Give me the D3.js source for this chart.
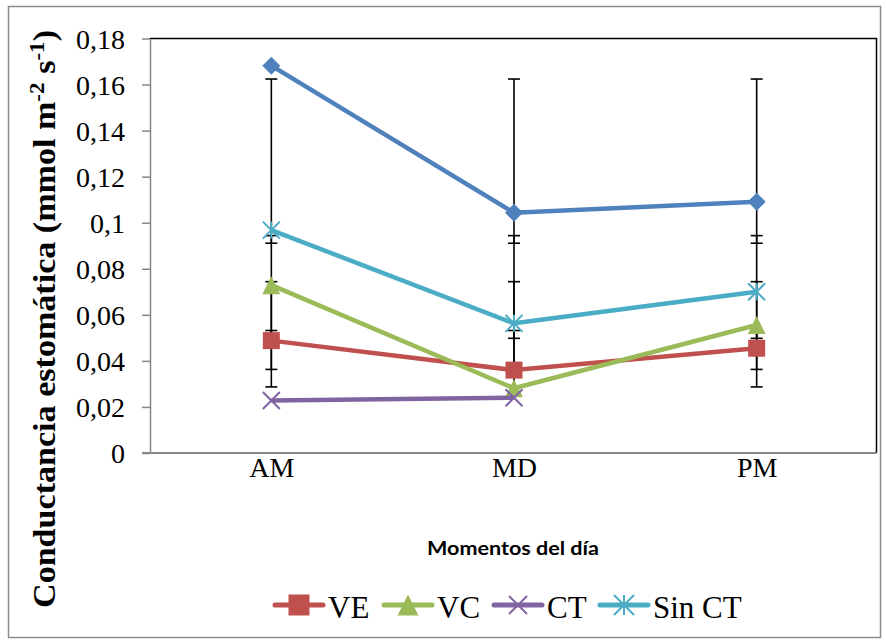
<!DOCTYPE html>
<html>
<head>
<meta charset="utf-8">
<script src="https://cdn.jsdelivr.net/npm/d3@7"></script>
<style>
  html, body { margin: 0; padding: 0; background: #fff; }
  svg { display: block; }
</style>
</head>
<body>
<svg id="chart" width="886" height="643"></svg>
<script>
// Momentos del día
const categories = ["AM", "MD", "PM"];

// Conductancia estomática por tratamiento
const seriesNames = ["", "VE", "VC", "CT", "Sin CT"];
const serieBase  = [0.1682, 0.1043, 0.1091];
const serieVE    = [0.0488, 0.0360, 0.0455];
const serieVC    = [0.0729, 0.0281, 0.0556];
const serieCT    = [0.0228, 0.0240, null];
const serieSinCT = [0.0968, 0.0563, 0.0700];

// Barras de error (límite inferior / superior) por momento
const errBase  = [[0.0911, 0.1624], [0.0911, 0.1624], [0.0911, 0.1624]];
const errVE    = [[0.0287, 0.0532], [0.0287, 0.0532], [0.0287, 0.0532]];
const errVC    = [[0.0363, 0.0744], [0.0363, 0.0744], [0.0363, 0.0744]];
const errCT    = [null, null, null];
const errSinCT = [[0.0498, 0.0944], [0.0498, 0.0944], [0.0498, 0.0944]];

const yTickValues = [0, 0.02, 0.04, 0.06, 0.08, 0.1, 0.12, 0.14, 0.16, 0.18];
const yTickLabels = ["0", "0,02", "0,04", "0,06", "0,08", "0,1", "0,12", "0,14", "0,16", "0,18"];

const colors  = ["#4F81BD", "#C0504D", "#9BBB59", "#8064A2", "#4BACC6"];
const markers = ["diamond", "square", "triangle", "x", "star"];

const series = [
  { name: seriesNames[0], values: serieBase,  err: errBase,  legend: false },
  { name: seriesNames[1], values: serieVE,    err: errVE,    legend: true },
  { name: seriesNames[2], values: serieVC,    err: errVC,    legend: true },
  { name: seriesNames[3], values: serieCT,    err: errCT,    legend: true },
  { name: seriesNames[4], values: serieSinCT, err: errSinCT, legend: true }
].map((s, i) => ({ ...s, color: colors[i], marker: markers[i] }));

const svg = d3.select("#chart");
const serif = "'Liberation Serif', 'Times New Roman', serif";

// Outer chart frame
svg.append("rect")
  .attr("x", 8.5).attr("y", 6.5).attr("width", 872).attr("height", 631)
  .attr("fill", "#fff").attr("stroke", "#8c8c8c").attr("stroke-width", 1.5);

const plot = { left: 150, right: 878, top: 38.5, bottom: 453 };

const x = d3.scalePoint().domain(categories).range([plot.left, plot.right]).padding(0.5);
const y = d3.scaleLinear().domain([0, 0.18]).range([plot.bottom, plot.top]);

// Plot area border (top and right in black)
svg.append("path")
  .attr("d", `M${plot.left},${plot.top}H${plot.right - 1.5}V${plot.bottom}`)
  .attr("fill", "none").attr("stroke", "#000").attr("stroke-width", 1.5);

// Y axis
const yAxis = svg.append("g")
  .attr("transform", `translate(${plot.left},0)`)
  .call(d3.axisLeft(y).tickValues(yTickValues).tickSize(8).tickSizeOuter(0)
    .tickFormat((d, i) => yTickLabels[i]));
yAxis.select(".domain").attr("stroke", "#868686").attr("stroke-width", 1.5);
yAxis.selectAll(".tick line").attr("stroke", "#868686").attr("stroke-width", 1.5);
yAxis.selectAll(".tick text")
  .attr("x", -25).attr("dy", "0.34em")
  .attr("font-family", serif).attr("font-size", 28).attr("fill", "#000");

// X axis
const xAxis = svg.append("g")
  .attr("transform", `translate(0,${plot.bottom})`)
  .call(d3.axisBottom(x).tickSize(0).tickSizeOuter(0));
xAxis.select(".domain").attr("stroke", "#868686").attr("stroke-width", 2)
  .attr("d", `M${plot.left - 8},0H${plot.right - 1.5}`);
xAxis.selectAll(".tick text")
  .attr("y", 24).attr("dy", 0)
  .attr("font-family", serif).attr("font-size", 28).attr("fill", "#000");

// Axis titles
const yTitle = svg.append("text")
  .attr("transform", "translate(55,319) rotate(-90)")
  .attr("text-anchor", "middle")
  .attr("textLength", 578).attr("lengthAdjust", "spacingAndGlyphs")
  .attr("font-family", serif).attr("font-weight", "bold").attr("font-size", 31)
  .attr("fill", "#000");
yTitle.append("tspan").text("Conductancia estomática  (mmol m");
yTitle.append("tspan").attr("dy", -11).attr("font-size", 21).text("-2");
yTitle.append("tspan").attr("dy", 11).text(" s");
yTitle.append("tspan").attr("dy", -11).attr("font-size", 21).text("-1");
yTitle.append("tspan").attr("dy", 11).text(")");

svg.append("text")
  .attr("x", 513).attr("y", 555)
  .attr("text-anchor", "middle")
  .attr("textLength", 172).attr("lengthAdjust", "spacingAndGlyphs")
  .attr("font-family", "Lato, 'Open Sans', sans-serif").attr("font-weight", "bold")
  .attr("font-size", 19).attr("fill", "#000")
  .text("Momentos del día");

// Marker drawing
function drawMarker(g, type, cx, cy, color, s) {
  const h = s / 2;
  if (type === "diamond") {
    g.append("path").attr("d", `M${cx},${cy - h}L${cx + h},${cy}L${cx},${cy + h}L${cx - h},${cy}Z`)
      .attr("fill", color);
  } else if (type === "square") {
    g.append("rect").attr("x", cx - h).attr("y", cy - h).attr("width", s).attr("height", s)
      .attr("fill", color);
  } else if (type === "triangle") {
    g.append("path").attr("d", `M${cx},${cy - h}L${cx + h},${cy + h}L${cx - h},${cy + h}Z`)
      .attr("fill", color);
  } else if (type === "x") {
    g.append("path").attr("d", `M${cx - h},${cy - h}L${cx + h},${cy + h}M${cx - h},${cy + h}L${cx + h},${cy - h}`)
      .attr("stroke", color).attr("stroke-width", 2).attr("fill", "none");
  } else if (type === "star") {
    g.append("path").attr("d", `M${cx - h},${cy - h}L${cx + h},${cy + h}M${cx - h},${cy + h}L${cx + h},${cy - h}M${cx},${cy - h}L${cx},${cy + h}`)
      .attr("stroke", color).attr("stroke-width", 2).attr("fill", "none");
  }
}

const markerSize = { diamond: 18, square: 17, triangle: 18, x: 17, star: 17 };

// Error bars
const errG = svg.append("g");
series.forEach(s => {
  s.err.forEach((e, i) => {
    if (!e) return;
    const cx = x(categories[i]);
    errG.append("line").attr("x1", cx).attr("x2", cx)
      .attr("y1", y(e[0])).attr("y2", y(e[1]))
      .attr("stroke", "#000").attr("stroke-width", 1.6);
    e.forEach(v => {
      errG.append("line").attr("x1", cx - 6).attr("x2", cx + 6)
        .attr("y1", y(v)).attr("y2", y(v))
        .attr("stroke", "#000").attr("stroke-width", 1.6);
    });
  });
});

// Series lines and markers
const line = d3.line()
  .defined(d => d.v != null)
  .x(d => x(d.c)).y(d => y(d.v));

series.forEach(s => {
  const pts = categories.map((c, i) => ({ c, v: s.values[i] }));
  const g = svg.append("g");
  g.append("path").datum(pts).attr("d", line)
    .attr("fill", "none").attr("stroke", s.color).attr("stroke-width", 4.5)
    .attr("stroke-linejoin", "round");
  pts.filter(d => d.v != null).forEach(d =>
    drawMarker(g, s.marker, x(d.c), y(d.v), s.color, markerSize[s.marker]));
});

// Legend
const legendItems = series.filter(s => s.legend);
const legendX = [273, 382, 492, 598];
const legendY = 605;
legendItems.forEach((s, i) => {
  const g = svg.append("g");
  const x0 = legendX[i];
  g.append("line").attr("x1", x0 + 2).attr("x2", x0 + 50)
    .attr("y1", legendY).attr("y2", legendY)
    .attr("stroke", s.color).attr("stroke-width", 5).attr("stroke-linecap", "round");
  const ls = { square: 21, triangle: 21, x: 18, star: 20 }[s.marker];
  drawMarker(g, s.marker, x0 + 26, legendY, s.color, ls);
  g.append("text").attr("x", x0 + 55).attr("y", legendY + 13)
    .attr("font-family", serif).attr("font-size", 31).attr("fill", "#000")
    .text(s.name);
});
</script>
</body>
</html>
